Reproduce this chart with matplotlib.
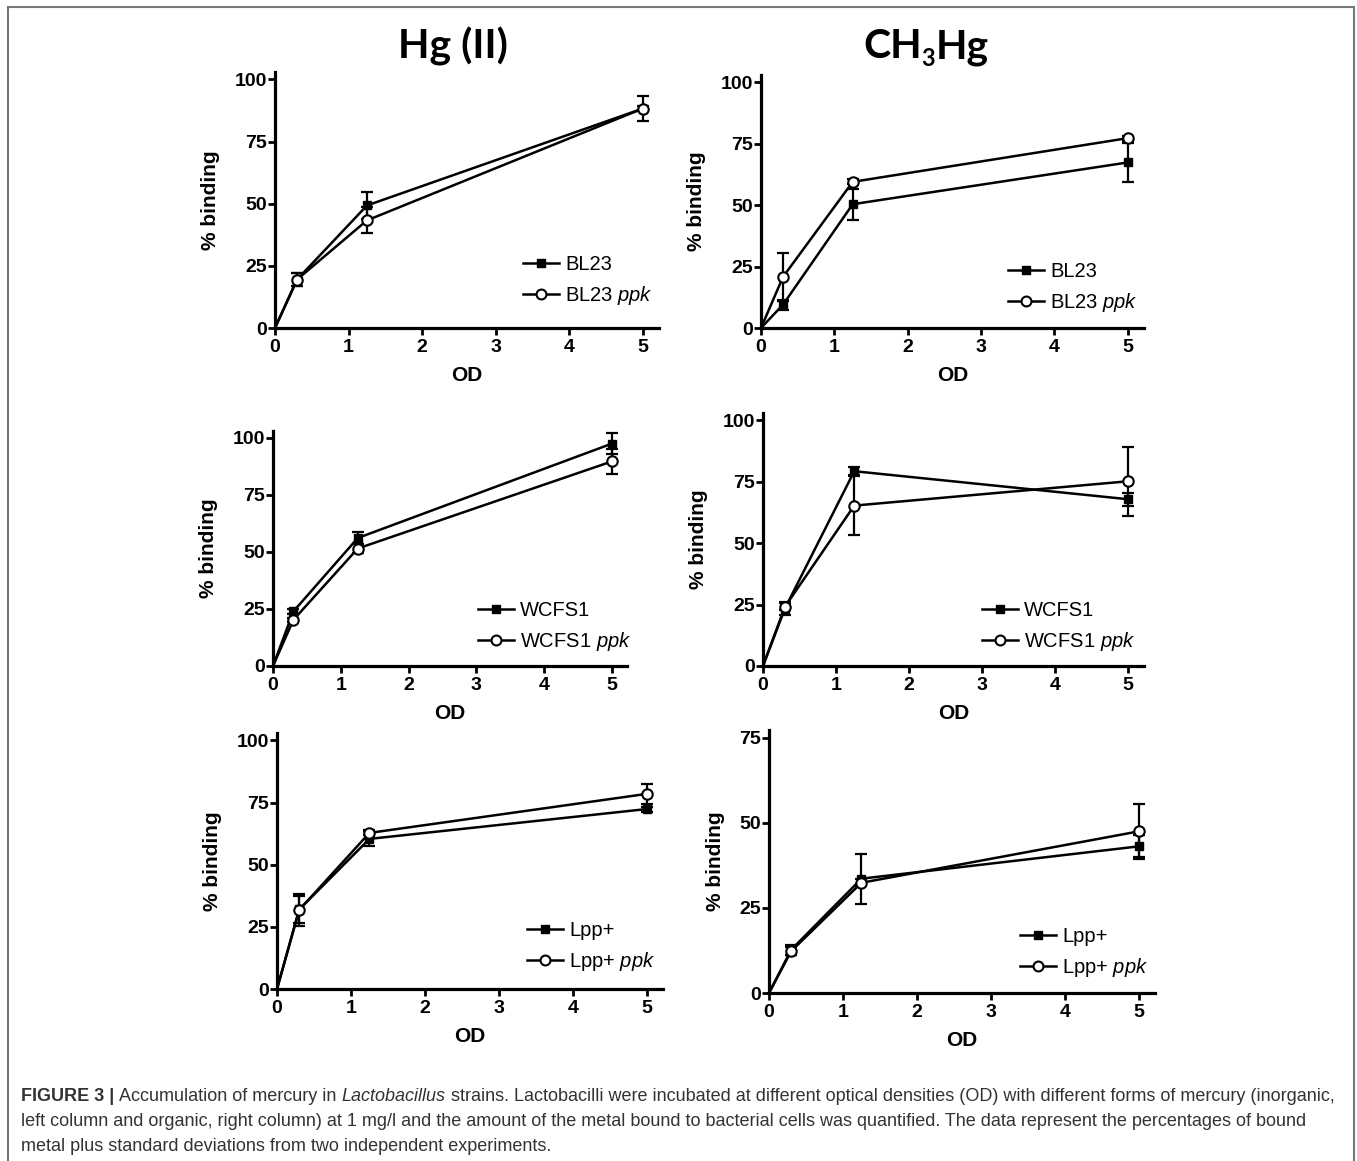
import numpy as np
import matplotlib
matplotlib.use('Agg')
import matplotlib.pyplot as plt
from matplotlib.patches import Rectangle

plt.rcParams['font.family'] = ['Liberation Sans', 'DejaVu Sans']
plt.rcParams['mathtext.fontset'] = 'custom'
plt.rcParams['mathtext.it'] = 'Liberation Sans:italic'
plt.rcParams['mathtext.rm'] = 'Liberation Sans'

W, H = 1357, 1161

# ---- data ----
od = [0, 0.3, 1.25, 5]

hg_bl23 = [0, 19.5, 49.3, 88.3]
hg_bl23_err = [0, 2.8, 5.6, 1.0]
hg_bl23_ppk = [0, 19.5, 43.3, 88.3]
hg_bl23_ppk_err = [0, 2.8, 5.2, 4.9]

ch3_bl23 = [0, 9.5, 50.4, 67.4]
ch3_bl23_err = [0, 2.0, 6.3, 8.0]
ch3_bl23_ppk = [0, 20.8, 59.5, 77.3]
ch3_bl23_ppk_err = [0, 9.9, 1.0, 1.0]

hg_wcfs1 = [0, 23.9, 56.1, 97.5]
hg_wcfs1_err = [0, 1.0, 2.8, 4.7]
hg_wcfs1_ppk = [0, 20.2, 51.5, 89.7]
hg_wcfs1_ppk_err = [0, 1.0, 2.0, 5.4]

ch3_wcfs1 = [0, 23.4, 79.3, 67.9]
ch3_wcfs1_err = [0, 2.5, 1.7, 2.6]
ch3_wcfs1_ppk = [0, 24.1, 65.3, 75.2]
ch3_wcfs1_ppk_err = [0, 1.5, 12.0, 14.0]

hg_lpp = [0, 32.0, 60.4, 72.4]
hg_lpp_err = [0, 5.5, 3.0, 1.0]
hg_lpp_ppk = [0, 31.8, 62.8, 78.5]
hg_lpp_ppk_err = [0, 6.5, 1.0, 4.0]

ch3_lpp = [0, 12.7, 33.6, 43.1]
ch3_lpp_err = [0, 1.5, 7.4, 3.2]
ch3_lpp_ppk = [0, 12.3, 32.4, 47.5]
ch3_lpp_ppk_err = [0, 1.2, 1.0, 8.1]

# panel: (strain, wt, wt_err, ppk, ppk_err, yticks, ymax,
#         axes px box (left, top, right, bottom), legend anchor px (x, y))
panels = [
    ('BL23', hg_bl23, hg_bl23_err, hg_bl23_ppk, hg_bl23_ppk_err,
     [0, 25, 50, 75, 100], 103, (275, 72, 659, 328), (523, 281)),
    ('BL23', ch3_bl23, ch3_bl23_err, ch3_bl23_ppk, ch3_bl23_ppk_err,
     [0, 25, 50, 75, 100], 103, (761, 75, 1144, 328), (1008, 288)),
    ('WCFS1', hg_wcfs1, hg_wcfs1_err, hg_wcfs1_ppk, hg_wcfs1_ppk_err,
     [0, 25, 50, 75, 100], 103, (273, 431, 627, 666), (478, 627)),
    ('WCFS1', ch3_wcfs1, ch3_wcfs1_err, ch3_wcfs1_ppk, ch3_wcfs1_ppk_err,
     [0, 25, 50, 75, 100], 103, (763, 413, 1144, 666), (982, 627)),
    ('Lpp+', hg_lpp, hg_lpp_err, hg_lpp_ppk, hg_lpp_ppk_err,
     [0, 25, 50, 75, 100], 103, (277, 733, 663, 989), (527, 947)),
    ('Lpp+', ch3_lpp, ch3_lpp_err, ch3_lpp_ppk, ch3_lpp_ppk_err,
     [0, 25, 50, 75], 77.3, (769, 730, 1155, 993), (1020, 953)),
]

fig = plt.figure(figsize=(W / 100, H / 100), dpi=100)
renderer = fig.canvas.get_renderer()


def draw_pieces(x, y, pieces, **kw):
    """Place text pieces one after another (pixel coords from top-left)."""
    for txt, props in pieces:
        opts = dict(kw)
        opts.update(props)
        dy = opts.pop('dy', 0)
        tt = fig.text(x / W, 1 - (y + dy) / H, txt, ha='left',
                      va='baseline', **opts)
        x += tt.get_window_extent(renderer).width


for strain, wt, wt_err, ppk, ppk_err, yticks, ymax, box, leg in panels:
    l, t, r, b = box
    ax = fig.add_axes([l / W, 1 - b / H, (r - l) / W, (b - t) / H])
    ax.errorbar(od[1:], wt[1:], yerr=wt_err[1:], fmt='none', ecolor='black',
                elinewidth=1.6, capsize=4, capthick=1.6, zorder=2)
    ax.errorbar(od[1:], ppk[1:], yerr=ppk_err[1:], fmt='none', ecolor='black',
                elinewidth=1.6, capsize=4, capthick=1.6, zorder=2)
    ax.plot(od, wt, color='black', lw=1.8, marker='s', ms=5.5,
            markevery=[1, 2, 3], mfc='black', mec='black', label=strain,
            zorder=3, clip_on=False)
    ax.plot(od, ppk, color='black', lw=1.8, marker='o', ms=7.5,
            markevery=[1, 2, 3], mfc='white', mec='black', mew=1.5,
            label=strain + r' $\mathit{ppk}$', zorder=4, clip_on=False)
    ax.set_xlim(0, 5.22)
    ax.set_ylim(0, ymax)
    ax.set_xticks([0, 1, 2, 3, 4, 5])
    ax.set_yticks(yticks)
    for s in ['top', 'right']:
        ax.spines[s].set_visible(False)
    for s in ['left', 'bottom']:
        ax.spines[s].set_linewidth(2.3)
    ax.tick_params(direction='out', length=5, width=2, labelsize=14, pad=1)
    ax.tick_params(axis='x', pad=3)
    for lab in ax.get_xticklabels() + ax.get_yticklabels():
        lab.set_fontweight('bold')
    ax.set_xlabel('OD', fontsize=15, fontweight='bold', labelpad=7)
    ax.set_ylabel('% binding', fontsize=15, fontweight='bold', labelpad=10)
    ax.legend(loc='center left', bbox_to_anchor=(leg[0] / W, 1 - leg[1] / H),
              bbox_transform=fig.transFigure, frameon=False, fontsize=14.5,
              borderpad=0, borderaxespad=0, handlelength=1.8,
              handletextpad=0.3, labelspacing=0.5, markerscale=0.95)

# column headings
title_kw = dict(fontsize=29.5, fontfamily='Lato', fontweight='bold')
draw_pieces(398, 58, [('Hg (II)', {})], **title_kw)
draw_pieces(863, 58, [('CH', {}), ('3', {'dy': 8, 'fontsize': 17}),
                      ('Hg', {})], **title_kw)

# caption, drawn piece by piece for mixed styles
cap_kw = dict(fontsize=13.0, color='#333333')
lines = [
    [('FIGURE 3 | ', {'fontweight': 'bold'}),
     ('Accumulation of mercury in ', {}),
     ('Lactobacillus', {'fontstyle': 'italic'}),
     (' strains. Lactobacilli were incubated at different optical densities '
      '(OD) with different forms of mercury (inorganic,', {})],
    [('left column and organic, right column) at 1 mg/l and the amount of the '
      'metal bound to bacterial cells was quantified. The data represent the '
      'percentages of bound', {})],
    [('metal plus standard deviations from two independent experiments.', {})],
]
for i, pieces in enumerate(lines):
    draw_pieces(21, 1101 + 25 * i, pieces, **cap_kw)

# outer frame (bottom edge sits off the image)
fig.patches.append(Rectangle((8 / W, -0.05), (1354 - 8) / W, 1.05 - 7 / H,
                             transform=fig.transFigure, fill=False,
                             edgecolor='#777777', lw=1.5))

fig.savefig('out.png', dpi=100)
